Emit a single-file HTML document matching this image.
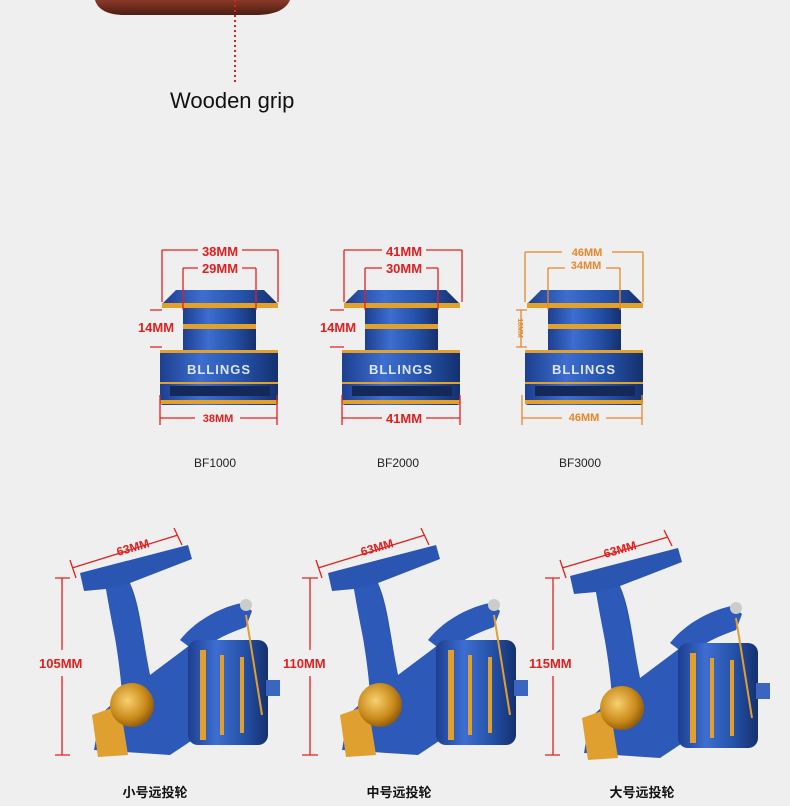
<!DOCTYPE html>
<html><head><meta charset="utf-8"><style>
html,body{margin:0;padding:0;background:#efefef;}
svg{display:block}
text{font-family:"Liberation Sans","Noto Sans CJK SC",sans-serif;}
</style></head><body>
<svg width="790" height="806" viewBox="0 0 790 806" xmlns="http://www.w3.org/2000/svg">
<defs>
<linearGradient id="wood" x1="0" y1="0" x2="0" y2="1"><stop offset="0" stop-color="#8a3a28"/><stop offset="1" stop-color="#4e1c12"/></linearGradient>
<linearGradient id="blue" x1="0" y1="0" x2="1" y2="0"><stop offset="0" stop-color="#1d3f8f"/><stop offset="0.35" stop-color="#3d6ed0"/><stop offset="0.7" stop-color="#2451a8"/><stop offset="1" stop-color="#15306e"/></linearGradient>
<radialGradient id="gold" cx="0.4" cy="0.4" r="0.7"><stop offset="0" stop-color="#f8d070"/><stop offset="0.6" stop-color="#c98a1a"/><stop offset="1" stop-color="#7a4a08"/></radialGradient>
<g id="spool">
  <path d="M14 0 H102 L116 14 V18 H0 V14 Z" fill="url(#blue)"/>
  <rect x="0" y="13" width="116" height="5" fill="#e3a12a"/>
  <rect x="21" y="18" width="73" height="42" fill="url(#blue)"/>
  <rect x="21" y="34" width="73" height="5" fill="#e3a12a"/>
  <rect x="-2" y="60" width="118" height="55" rx="3" fill="url(#blue)"/>
  <rect x="-2" y="60" width="118" height="3" fill="#e3a12a"/>
  <rect x="-2" y="92" width="118" height="2" fill="#e3a12a"/>
  <rect x="-2" y="110" width="118" height="4" fill="#e3a12a"/>
  <rect x="8" y="96" width="100" height="10" fill="#15285a"/>
  <text x="57" y="84" font-size="13" font-weight="bold" fill="#dfe6f2" text-anchor="middle" letter-spacing="1">BLLINGS</text>
</g>
<g id="reel">
  <path d="M10 28 L118 0 L122 14 L60 38 C70 60 72 90 80 130 L60 150 C50 120 42 80 36 44 L14 46 Z" fill="#2a55b0"/>
  <path d="M36 44 C45 90 50 120 52 150 L30 170 L24 205 L100 210 L130 190 L120 100 L80 130 C72 90 66 60 60 38 Z" fill="#2d5ab8"/>
  <path d="M22 170 L50 160 L58 210 L28 212 Z" fill="#e0a030"/>
  <circle cx="62" cy="160" r="22" fill="url(#gold)"/>
  <path d="M110 95 C130 70 160 60 172 58 L182 66 L176 82 C160 88 140 95 130 110 Z" fill="#2d5ab8"/>
  <rect x="118" y="95" width="80" height="105" rx="10" fill="url(#blue)"/>
  <rect x="130" y="105" width="6" height="90" fill="#e0a030"/>
  <rect x="150" y="110" width="4" height="80" fill="#e0a030"/>
  <rect x="170" y="112" width="4" height="76" fill="#e0a030"/>
  <rect x="196" y="135" width="14" height="16" fill="#3a66c0"/>
  <circle cx="176" cy="60" r="6" fill="#ccc"/>
  <path d="M176 70 L192 170" stroke="#e0a030" stroke-width="2" fill="none"/>
</g>
</defs>

<path d="M95 0 L290 0 C285 12 270 15 255 15 L125 15 C108 15 98 10 95 0 Z" fill="url(#wood)"/>
<line x1="235" y1="0" x2="235" y2="85" stroke="#e02020" stroke-width="2" stroke-dasharray="2,3"/>
<text x="170" y="108" font-size="22" fill="#111">Wooden grip</text>

<use href="#spool" transform="translate(162,290)"/>
<use href="#spool" transform="translate(344,290)"/>
<use href="#spool" transform="translate(527,290)"/>

<g stroke="#e02020" stroke-width="1.3" fill="none">
  <path d="M162 250 H198 M242 250 H278 M162 250 V302 M278 250 V302"/>
  <path d="M183 268 H198 M242 268 H256 M183 268 V310 M256 268 V310"/>
  <path d="M150 310 H162 M150 347 H162"/>
  <path d="M160 395 V425 M277 395 V425 M160 418 H195 M240 418 H277"/>
  <path d="M344 250 H382 M426 250 H462 M344 250 V302 M462 250 V302"/>
  <path d="M365 268 H382 M426 268 H438 M365 268 V310 M438 268 V310"/>
  <path d="M330 310 H344 M330 347 H344"/>
  <path d="M342 395 V425 M460 395 V425 M342 418 H382 M426 418 H460"/>
</g>
<g stroke="#e8862a" stroke-width="1.3" fill="none">
  <path d="M525 252 H562 M612 252 H643 M525 252 V302 M643 252 V302"/>
  <path d="M548 268 H565 M606 268 H620 M548 268 V310 M620 268 V310"/>
  <path d="M516 310 H527 M516 347 H527 M521 310 V347"/>
  <path d="M522 395 V425 M642 395 V425 M522 418 H562 M606 418 H642"/>
</g>
<g fill="#e02020" font-weight="bold" text-anchor="middle">
  <text x="220" y="256" font-size="13">38MM</text>
  <text x="220" y="273" font-size="13">29MM</text>
  <text x="156" y="332" font-size="13">14MM</text>
  <text x="218" y="422" font-size="11">38MM</text>
  <text x="404" y="256" font-size="13">41MM</text>
  <text x="404" y="273" font-size="13">30MM</text>
  <text x="338" y="332" font-size="13">14MM</text>
  <text x="404" y="423" font-size="13">41MM</text>
</g>
<g fill="#e8862a" font-weight="bold" text-anchor="middle">
  <text x="587" y="256" font-size="11">46MM</text>
  <text x="586" y="269" font-size="11">34MM</text>
  <text x="584" y="421" font-size="11">46MM</text>
  <text x="0" y="0" font-size="7" transform="translate(518,328) rotate(90)">18MM</text>
</g>
<g font-size="12" fill="#222" text-anchor="middle">
  <text x="215" y="467">BF1000</text>
  <text x="398" y="467">BF2000</text>
  <text x="580" y="467">BF3000</text>
</g>

<use href="#reel" transform="translate(70,545)"/>
<use href="#reel" transform="translate(318,545)"/>
<use href="#reel" transform="translate(560,548)"/>

<g stroke="#e02020" stroke-width="1.3" fill="none">
  <path d="M72 568 L178 535 M70 560 L76 578 M174 528 L182 545"/>
  <path d="M55 578 H70 M55 755 H70 M62 578 V650 M62 676 V755"/>
  <path d="M318 568 L425 535 M316 560 L322 578 M421 528 L429 545"/>
  <path d="M302 578 H318 M302 755 H318 M310 578 V650 M310 676 V755"/>
  <path d="M562 568 L668 537 M560 560 L566 578 M664 530 L672 546"/>
  <path d="M545 578 H560 M545 755 H560 M553 578 V650 M553 676 V755"/>
</g>
<g fill="#e02020" font-size="13" font-weight="bold">
  <text x="118" y="556" transform="rotate(-16 118 556)" font-size="12">63MM</text>
  <text x="362" y="556" transform="rotate(-16 362 556)" font-size="12">63MM</text>
  <text x="605" y="558" transform="rotate(-16 605 558)" font-size="12">63MM</text>
  <text x="39" y="668">105MM</text>
  <text x="283" y="668">110MM</text>
  <text x="529" y="668">115MM</text>
</g>
<g font-size="13" font-weight="bold" fill="#111" text-anchor="middle">
  <text x="155" y="797">小号远投轮</text>
  <text x="399" y="797">中号远投轮</text>
  <text x="642" y="797">大号远投轮</text>
</g>
</svg>
</body></html>
